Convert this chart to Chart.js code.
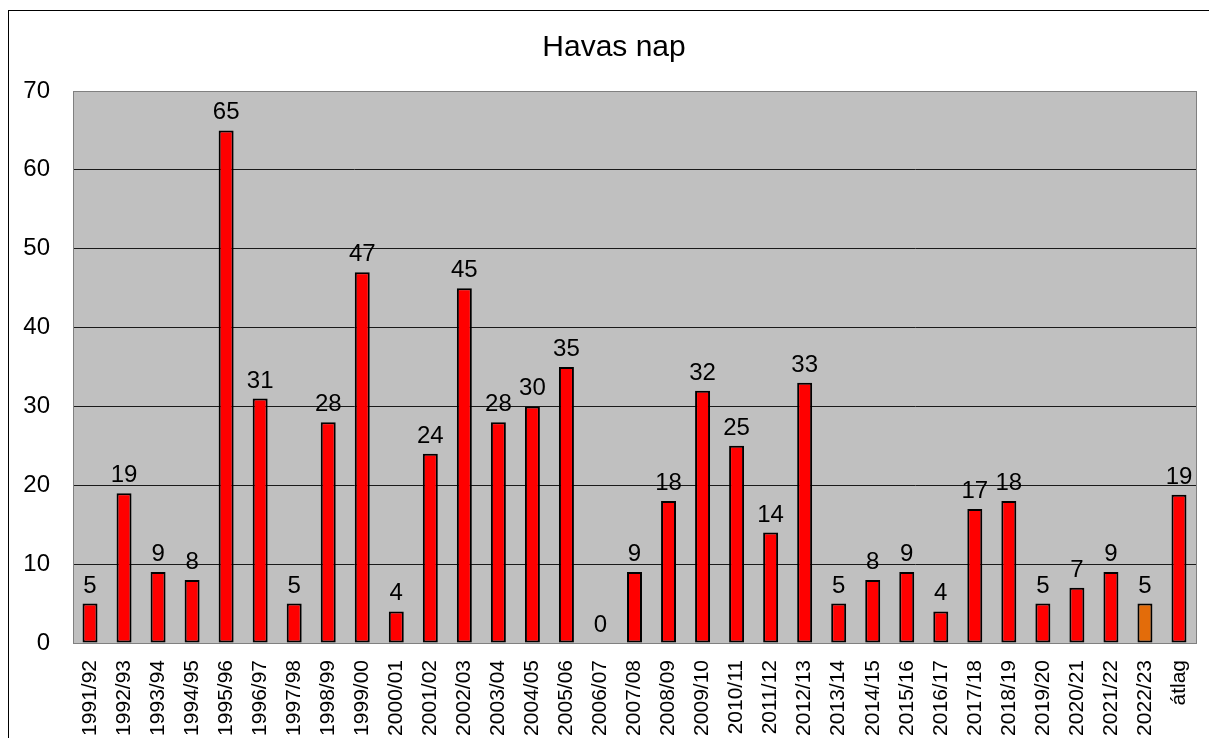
<!DOCTYPE html>
<html>
<head>
<meta charset="utf-8">
<title>Havas nap</title>
<script src="https://cdn.jsdelivr.net/npm/chart.js@4/dist/chart.umd.min.js"></script>
<style>
  html, body { margin: 0; padding: 0; background: #fff; }
  #wrap { width: 1209px; height: 738px; position: relative; }
</style>
</head>
<body>
<div id="wrap"><canvas id="chart"></canvas></div>
<script>
// seasons and snowy day counts
const seasons = ['1991/92', '1992/93', '1993/94', '1994/95', '1995/96', '1996/97', '1997/98', '1998/99',
    '1999/00', '2000/01', '2001/02', '2002/03', '2003/04', '2004/05', '2005/06', '2006/07', '2007/08',
    '2008/09', '2009/10', '2010/11', '2011/12', '2012/13', '2013/14', '2014/15', '2015/16', '2016/17',
    '2017/18', '2018/19', '2019/20', '2020/21', '2021/22', '2022/23', 'átlag'];
const snowDays = [5, 19, 9, 8, 65, 31, 5, 28, 47, 4, 24, 45, 28, 30, 35, 0, 9, 18, 32, 25, 14, 33,
    5, 8, 9, 4, 17, 18, 5, 7, 9, 5, 18.8];
const yTicks = [0, 10, 20, 30, 40, 50, 60, 70];
const chartTitle = 'Havas nap';

const FONT = '"Liberation Sans", Arial, sans-serif';
const barColors = seasons.map(s => s === '2022/23' ? '#e36c0a' : '#ff0000');

const plotBackground = {
    id: 'plotBackground',
    beforeDraw(chart) {
        const { ctx, chartArea } = chart;
        ctx.save();
        ctx.fillStyle = '#c0c0c0';
        ctx.fillRect(chartArea.left, chartArea.top, chartArea.right - chartArea.left, chartArea.bottom - chartArea.top);
        ctx.restore();
    },
    afterDraw(chart) {
        const { ctx, chartArea } = chart;
        ctx.save();
        ctx.strokeStyle = '#808080';
        ctx.lineWidth = 1;
        ctx.strokeRect(chartArea.left + 0.5, chartArea.top + 0.5, chartArea.right - chartArea.left, chartArea.bottom - chartArea.top);
        // outer frame
        ctx.strokeStyle = '#000';
        ctx.strokeRect(8.5, 10.5, 1400, 900);
        // title, centred a bit right of the canvas middle like the original
        ctx.fillStyle = '#000';
        ctx.font = '30px ' + FONT;
        ctx.textAlign = 'center';
        ctx.textBaseline = 'alphabetic';
        ctx.fillText(chartTitle, 614, 56);
        ctx.restore();
    }
};

const valueLabels = {
    id: 'valueLabels',
    afterDatasetsDraw(chart) {
        const { ctx } = chart;
        const meta = chart.getDatasetMeta(0);
        ctx.save();
        ctx.font = '24px ' + FONT;
        ctx.fillStyle = '#000';
        ctx.textAlign = 'center';
        ctx.textBaseline = 'alphabetic';
        meta.data.forEach((bar, i) => {
            ctx.fillText(String(Math.round(snowDays[i])), bar.x, bar.y - 11);
        });
        ctx.restore();
    }
};

new Chart(document.getElementById('chart'), {
    type: 'bar',
    data: {
        labels: seasons,
        datasets: [{
            label: chartTitle,
            data: snowDays,
            backgroundColor: barColors,
            borderColor: '#000',
            borderWidth: 2,
            borderSkipped: false,
            categoryPercentage: 1,
            barPercentage: 0.44
        }]
    },
    options: {
        responsive: true,
        maintainAspectRatio: false,
        animation: false,
        layout: { padding: { left: 0, right: 13, top: 91, bottom: 0 } },
        plugins: {
            legend: { display: false },
            tooltip: { enabled: false },
            title: { display: false }
        },
        scales: {
            x: {
                grid: { display: false },
                border: { display: true, color: '#808080' },
                ticks: {
                    color: '#000',
                    font: { family: FONT, size: 21 },
                    minRotation: 90,
                    maxRotation: 90,
                    autoSkip: false,
                    padding: 9
                },
                afterFit(scale) {
                    scale.height = 95;
                    scale.paddingLeft = 0;
                    scale.paddingRight = 0;
                }
            },
            y: {
                min: 0,
                max: 70,
                afterBuildTicks(scale) { scale.ticks = yTicks.map(v => ({ value: v })); },
                grid: {
                    color: ctx => (ctx.tick && (ctx.tick.value === 0 || ctx.tick.value === 70)) ? '#808080' : '#1a1a1a',
                    lineWidth: 1,
                    drawTicks: false
                },
                border: { display: true, color: '#808080' },
                ticks: {
                    color: '#000',
                    font: { family: FONT, size: 24 },
                    padding: 23
                },
                afterFit(scale) { scale.width = 73; }
            }
        }
    },
    plugins: [plotBackground, valueLabels]
});
</script>
</body>
</html>
